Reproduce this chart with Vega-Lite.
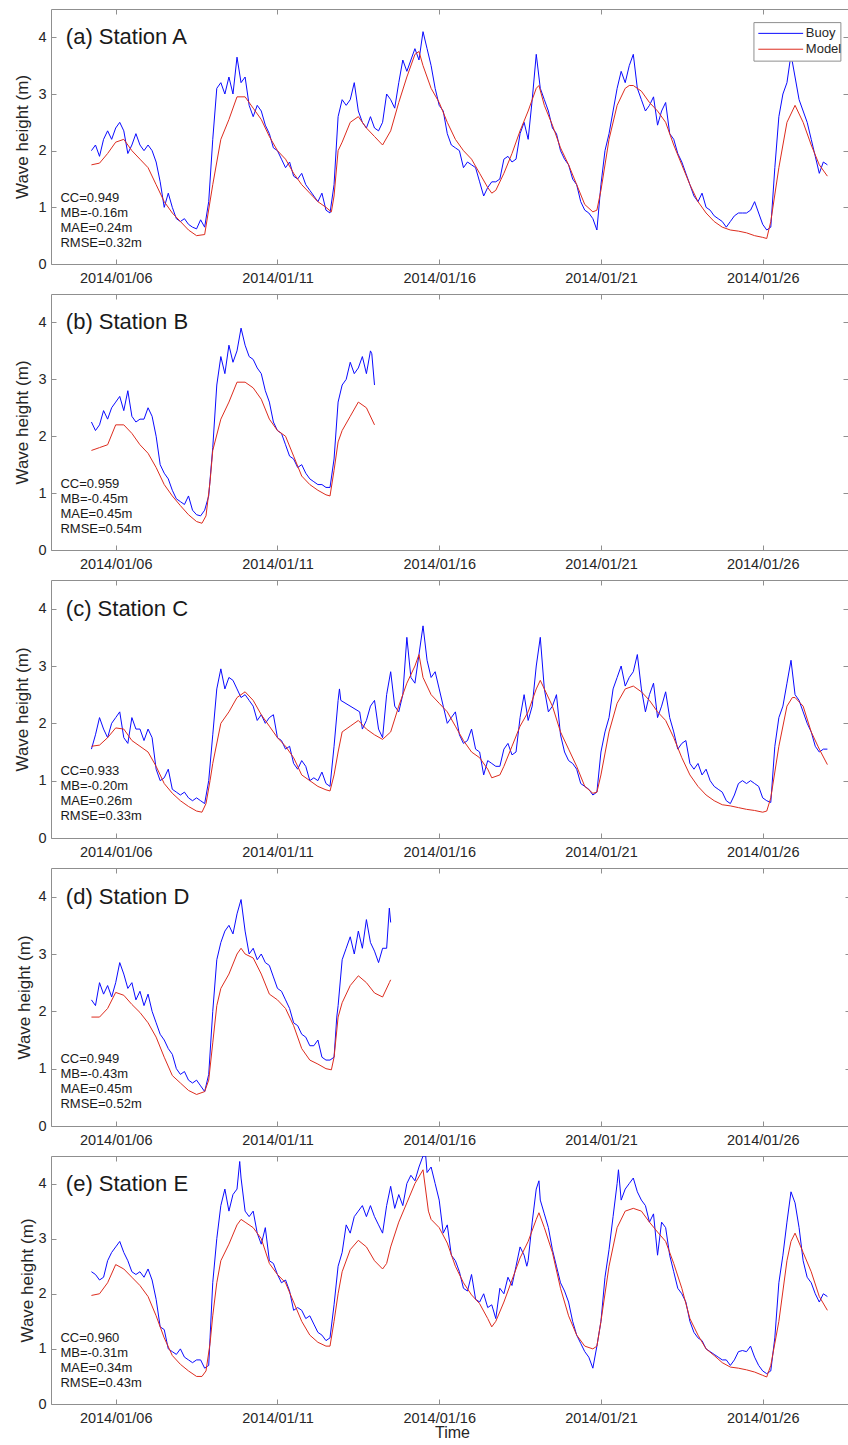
{
"$schema": "https://vega.github.io/schema/vega-lite/v6.json",
"background": "white",
"padding": {"top": 8, "left": 13, "right": 0, "bottom": 0},
"spacing": 8,
"config": {
  "font": "Liberation Sans",
  "view": {"stroke": "#8f8f8f", "strokeWidth": 1},
  "axis": {"domain": false, "grid": false, "tickColor": "#8f8f8f", "tickSize": -5, "labelColor": "#262626", "titleColor": "#262626", "labelFontSize": 14.5, "titleFontSize": 17, "titleFontWeight": "normal", "labelFont": "Liberation Sans", "titleFont": "Liberation Sans"}
},
"datasets": {
"Ab": [
{"t":"2014-01-05 06:00","v":2.0},{"t":"2014-01-05 09:00","v":2.1},{"t":"2014-01-05 12:00","v":1.9},{"t":"2014-01-05 15:00","v":2.2},{"t":"2014-01-05 18:00","v":2.35},{"t":"2014-01-05 21:00","v":2.2},
{"t":"2014-01-06 00:00","v":2.4},{"t":"2014-01-06 03:00","v":2.5},{"t":"2014-01-06 06:00","v":2.35},{"t":"2014-01-06 09:00","v":1.95},{"t":"2014-01-06 12:00","v":2.1},{"t":"2014-01-06 15:00","v":2.3},{"t":"2014-01-06 18:00","v":2.1},{"t":"2014-01-06 21:00","v":2.0},
{"t":"2014-01-07 00:00","v":2.1},{"t":"2014-01-07 03:00","v":2.0},{"t":"2014-01-07 06:00","v":1.8},{"t":"2014-01-07 09:00","v":1.45},{"t":"2014-01-07 12:00","v":1.0},{"t":"2014-01-07 15:00","v":1.25},{"t":"2014-01-07 18:00","v":1.0},{"t":"2014-01-07 21:00","v":0.8},
{"t":"2014-01-08 00:00","v":0.75},{"t":"2014-01-08 03:00","v":0.8},{"t":"2014-01-08 06:00","v":0.7},{"t":"2014-01-08 09:00","v":0.65},{"t":"2014-01-08 12:00","v":0.62},{"t":"2014-01-08 15:00","v":0.78},{"t":"2014-01-08 18:00","v":0.65},{"t":"2014-01-08 21:00","v":1.1},
{"t":"2014-01-09 00:00","v":2.2},{"t":"2014-01-09 03:00","v":3.1},{"t":"2014-01-09 06:00","v":3.2},{"t":"2014-01-09 09:00","v":3.0},{"t":"2014-01-09 12:00","v":3.3},{"t":"2014-01-09 15:00","v":3.0},{"t":"2014-01-09 18:00","v":3.65},{"t":"2014-01-09 21:00","v":3.2},
{"t":"2014-01-10 00:00","v":3.3},{"t":"2014-01-10 03:00","v":2.8},{"t":"2014-01-10 06:00","v":2.6},{"t":"2014-01-10 09:00","v":2.8},{"t":"2014-01-10 12:00","v":2.7},{"t":"2014-01-10 15:00","v":2.45},{"t":"2014-01-10 18:00","v":2.3},{"t":"2014-01-10 21:00","v":2.05},
{"t":"2014-01-11 00:00","v":2.0},{"t":"2014-01-11 03:00","v":1.85},{"t":"2014-01-11 06:00","v":1.7},{"t":"2014-01-11 09:00","v":1.8},{"t":"2014-01-11 12:00","v":1.55},{"t":"2014-01-11 15:00","v":1.5},{"t":"2014-01-11 18:00","v":1.6},{"t":"2014-01-11 21:00","v":1.4},
{"t":"2014-01-12 00:00","v":1.3},{"t":"2014-01-12 03:00","v":1.2},{"t":"2014-01-12 06:00","v":1.1},{"t":"2014-01-12 09:00","v":1.25},{"t":"2014-01-12 12:00","v":0.95},{"t":"2014-01-12 15:00","v":0.9},{"t":"2014-01-12 18:00","v":1.4},{"t":"2014-01-12 21:00","v":2.6},
{"t":"2014-01-13 00:00","v":2.9},{"t":"2014-01-13 03:00","v":2.8},{"t":"2014-01-13 06:00","v":2.9},{"t":"2014-01-13 09:00","v":3.2},{"t":"2014-01-13 12:00","v":2.7},{"t":"2014-01-13 15:00","v":2.5},{"t":"2014-01-13 18:00","v":2.4},{"t":"2014-01-13 21:00","v":2.6},
{"t":"2014-01-14 00:00","v":2.4},{"t":"2014-01-14 03:00","v":2.35},{"t":"2014-01-14 06:00","v":2.5},{"t":"2014-01-14 09:00","v":3.0},{"t":"2014-01-14 12:00","v":2.9},{"t":"2014-01-14 15:00","v":2.75},{"t":"2014-01-14 18:00","v":3.2},{"t":"2014-01-14 21:00","v":3.6},
{"t":"2014-01-15 00:00","v":3.4},{"t":"2014-01-15 03:00","v":3.6},{"t":"2014-01-15 06:00","v":3.8},{"t":"2014-01-15 09:00","v":3.6},{"t":"2014-01-15 12:00","v":4.1},{"t":"2014-01-15 15:00","v":3.8},{"t":"2014-01-15 18:00","v":3.5},{"t":"2014-01-15 21:00","v":3.1},
{"t":"2014-01-16 00:00","v":2.8},{"t":"2014-01-16 03:00","v":2.7},{"t":"2014-01-16 06:00","v":2.3},{"t":"2014-01-16 09:00","v":2.1},{"t":"2014-01-16 12:00","v":2.05},{"t":"2014-01-16 15:00","v":2.0},{"t":"2014-01-16 18:00","v":1.7},{"t":"2014-01-16 21:00","v":1.8},
{"t":"2014-01-17 00:00","v":1.75},{"t":"2014-01-17 03:00","v":1.7},{"t":"2014-01-17 06:00","v":1.45},{"t":"2014-01-17 09:00","v":1.2},{"t":"2014-01-17 12:00","v":1.35},{"t":"2014-01-17 15:00","v":1.45},{"t":"2014-01-17 18:00","v":1.45},{"t":"2014-01-17 21:00","v":1.5},
{"t":"2014-01-18 00:00","v":1.85},{"t":"2014-01-18 03:00","v":1.9},{"t":"2014-01-18 06:00","v":1.8},{"t":"2014-01-18 09:00","v":1.85},{"t":"2014-01-18 12:00","v":2.3},{"t":"2014-01-18 15:00","v":2.5},{"t":"2014-01-18 18:00","v":2.2},{"t":"2014-01-18 21:00","v":2.9},
{"t":"2014-01-19 00:00","v":3.7},{"t":"2014-01-19 03:00","v":3.1},{"t":"2014-01-19 06:00","v":2.9},{"t":"2014-01-19 09:00","v":2.7},{"t":"2014-01-19 12:00","v":2.4},{"t":"2014-01-19 15:00","v":2.3},{"t":"2014-01-19 18:00","v":2.0},{"t":"2014-01-19 21:00","v":1.85},
{"t":"2014-01-20 00:00","v":1.75},{"t":"2014-01-20 03:00","v":1.5},{"t":"2014-01-20 06:00","v":1.4},{"t":"2014-01-20 09:00","v":1.1},{"t":"2014-01-20 12:00","v":0.95},{"t":"2014-01-20 15:00","v":0.9},{"t":"2014-01-20 18:00","v":0.8},{"t":"2014-01-20 21:00","v":0.6},
{"t":"2014-01-21 00:00","v":1.4},{"t":"2014-01-21 03:00","v":2.0},{"t":"2014-01-21 06:00","v":2.3},{"t":"2014-01-21 09:00","v":2.7},{"t":"2014-01-21 12:00","v":3.1},{"t":"2014-01-21 15:00","v":3.4},{"t":"2014-01-21 18:00","v":3.2},{"t":"2014-01-21 21:00","v":3.5},
{"t":"2014-01-22 00:00","v":3.7},{"t":"2014-01-22 03:00","v":3.1},{"t":"2014-01-22 06:00","v":2.9},{"t":"2014-01-22 09:00","v":2.7},{"t":"2014-01-22 12:00","v":2.8},{"t":"2014-01-22 15:00","v":2.95},{"t":"2014-01-22 18:00","v":2.45},{"t":"2014-01-22 21:00","v":2.7},
{"t":"2014-01-23 00:00","v":2.85},{"t":"2014-01-23 03:00","v":2.3},{"t":"2014-01-23 06:00","v":2.2},{"t":"2014-01-23 09:00","v":1.95},{"t":"2014-01-23 12:00","v":1.8},{"t":"2014-01-23 15:00","v":1.6},{"t":"2014-01-23 18:00","v":1.4},{"t":"2014-01-23 21:00","v":1.2},
{"t":"2014-01-24 00:00","v":1.1},{"t":"2014-01-24 03:00","v":1.25},{"t":"2014-01-24 06:00","v":1.0},{"t":"2014-01-24 09:00","v":0.95},{"t":"2014-01-24 12:00","v":0.85},{"t":"2014-01-24 15:00","v":0.8},{"t":"2014-01-24 18:00","v":0.75},{"t":"2014-01-24 21:00","v":0.65},
{"t":"2014-01-25 00:00","v":0.75},{"t":"2014-01-25 03:00","v":0.85},{"t":"2014-01-25 06:00","v":0.9},{"t":"2014-01-25 09:00","v":0.9},{"t":"2014-01-25 12:00","v":0.9},{"t":"2014-01-25 15:00","v":0.95},{"t":"2014-01-25 18:00","v":1.1},{"t":"2014-01-25 21:00","v":0.9},
{"t":"2014-01-26 00:00","v":0.7},{"t":"2014-01-26 03:00","v":0.6},{"t":"2014-01-26 06:00","v":0.65},{"t":"2014-01-26 09:00","v":1.7},{"t":"2014-01-26 12:00","v":2.6},{"t":"2014-01-26 15:00","v":3.0},{"t":"2014-01-26 18:00","v":3.2},{"t":"2014-01-26 21:00","v":3.7},
{"t":"2014-01-27 00:00","v":3.3},{"t":"2014-01-27 03:00","v":2.9},{"t":"2014-01-27 06:00","v":2.7},{"t":"2014-01-27 09:00","v":2.5},{"t":"2014-01-27 12:00","v":2.2},{"t":"2014-01-27 15:00","v":1.9},{"t":"2014-01-27 18:00","v":1.6},{"t":"2014-01-27 21:00","v":1.8},
{"t":"2014-01-28 00:00","v":1.75}
],
"Am": [
{"t":"2014-01-05 06:00","v":1.75},{"t":"2014-01-05 12:00","v":1.78},{"t":"2014-01-05 18:00","v":1.95},{"t":"2014-01-06 00:00","v":2.15},{"t":"2014-01-06 06:00","v":2.2},{"t":"2014-01-06 12:00","v":2.0},{"t":"2014-01-06 18:00","v":1.85},
{"t":"2014-01-07 00:00","v":1.7},{"t":"2014-01-07 06:00","v":1.4},{"t":"2014-01-07 12:00","v":1.1},{"t":"2014-01-07 18:00","v":0.9},{"t":"2014-01-08 00:00","v":0.75},{"t":"2014-01-08 06:00","v":0.6},{"t":"2014-01-08 12:00","v":0.5},{"t":"2014-01-08 18:00","v":0.52},
{"t":"2014-01-09 00:00","v":1.4},{"t":"2014-01-09 06:00","v":2.2},{"t":"2014-01-09 12:00","v":2.55},{"t":"2014-01-09 18:00","v":2.95},{"t":"2014-01-10 00:00","v":2.95},{"t":"2014-01-10 06:00","v":2.75},{"t":"2014-01-10 12:00","v":2.55},{"t":"2014-01-10 18:00","v":2.25},
{"t":"2014-01-11 00:00","v":2.0},{"t":"2014-01-11 06:00","v":1.85},{"t":"2014-01-11 12:00","v":1.6},{"t":"2014-01-11 18:00","v":1.4},{"t":"2014-01-12 00:00","v":1.25},{"t":"2014-01-12 06:00","v":1.1},{"t":"2014-01-12 12:00","v":1.0},{"t":"2014-01-12 16:00","v":0.92},{"t":"2014-01-12 18:00","v":1.2},{"t":"2014-01-12 21:00","v":2.0},
{"t":"2014-01-13 00:00","v":2.15},{"t":"2014-01-13 06:00","v":2.5},{"t":"2014-01-13 12:00","v":2.6},{"t":"2014-01-13 18:00","v":2.4},{"t":"2014-01-14 00:00","v":2.25},{"t":"2014-01-14 06:00","v":2.1},{"t":"2014-01-14 12:00","v":2.35},{"t":"2014-01-14 18:00","v":2.85},
{"t":"2014-01-15 00:00","v":3.3},{"t":"2014-01-15 06:00","v":3.7},{"t":"2014-01-15 09:00","v":3.75},{"t":"2014-01-15 12:00","v":3.5},{"t":"2014-01-15 18:00","v":3.1},{"t":"2014-01-16 00:00","v":2.85},{"t":"2014-01-16 06:00","v":2.5},{"t":"2014-01-16 12:00","v":2.2},{"t":"2014-01-16 18:00","v":2.0},
{"t":"2014-01-17 00:00","v":1.85},{"t":"2014-01-17 06:00","v":1.6},{"t":"2014-01-17 12:00","v":1.35},{"t":"2014-01-17 15:00","v":1.25},{"t":"2014-01-17 18:00","v":1.3},{"t":"2014-01-18 00:00","v":1.6},{"t":"2014-01-18 06:00","v":1.95},{"t":"2014-01-18 12:00","v":2.35},{"t":"2014-01-18 18:00","v":2.7},
{"t":"2014-01-19 00:00","v":3.1},{"t":"2014-01-19 02:00","v":3.15},{"t":"2014-01-19 06:00","v":2.8},{"t":"2014-01-19 12:00","v":2.45},{"t":"2014-01-19 18:00","v":2.05},{"t":"2014-01-20 00:00","v":1.75},{"t":"2014-01-20 06:00","v":1.4},{"t":"2014-01-20 12:00","v":1.05},{"t":"2014-01-20 18:00","v":0.92},{"t":"2014-01-20 21:00","v":0.95},
{"t":"2014-01-21 00:00","v":1.3},{"t":"2014-01-21 06:00","v":2.2},{"t":"2014-01-21 12:00","v":2.8},{"t":"2014-01-21 18:00","v":3.1},{"t":"2014-01-21 21:00","v":3.15},{"t":"2014-01-22 00:00","v":3.15},{"t":"2014-01-22 06:00","v":3.05},{"t":"2014-01-22 12:00","v":2.85},{"t":"2014-01-22 18:00","v":2.7},
{"t":"2014-01-23 00:00","v":2.5},{"t":"2014-01-23 06:00","v":2.1},{"t":"2014-01-23 12:00","v":1.75},{"t":"2014-01-23 18:00","v":1.4},{"t":"2014-01-24 00:00","v":1.1},{"t":"2014-01-24 06:00","v":0.9},{"t":"2014-01-24 12:00","v":0.75},{"t":"2014-01-24 18:00","v":0.65},
{"t":"2014-01-25 00:00","v":0.6},{"t":"2014-01-25 06:00","v":0.58},{"t":"2014-01-25 12:00","v":0.55},{"t":"2014-01-25 18:00","v":0.5},{"t":"2014-01-26 00:00","v":0.47},{"t":"2014-01-26 03:00","v":0.45},{"t":"2014-01-26 06:00","v":0.75},{"t":"2014-01-26 12:00","v":1.7},{"t":"2014-01-26 18:00","v":2.5},
{"t":"2014-01-27 00:00","v":2.8},{"t":"2014-01-27 06:00","v":2.5},{"t":"2014-01-27 12:00","v":2.1},{"t":"2014-01-27 18:00","v":1.75},{"t":"2014-01-28 00:00","v":1.55}
],
"Bb": [
{"t":"2014-01-05 06:00","v":2.25},{"t":"2014-01-05 09:00","v":2.1},{"t":"2014-01-05 12:00","v":2.2},{"t":"2014-01-05 15:00","v":2.45},{"t":"2014-01-05 18:00","v":2.3},{"t":"2014-01-05 21:00","v":2.5},
{"t":"2014-01-06 00:00","v":2.6},{"t":"2014-01-06 03:00","v":2.7},{"t":"2014-01-06 06:00","v":2.45},{"t":"2014-01-06 09:00","v":2.8},{"t":"2014-01-06 12:00","v":2.35},{"t":"2014-01-06 15:00","v":2.25},{"t":"2014-01-06 18:00","v":2.3},{"t":"2014-01-06 21:00","v":2.3},
{"t":"2014-01-07 00:00","v":2.5},{"t":"2014-01-07 03:00","v":2.35},{"t":"2014-01-07 06:00","v":2.0},{"t":"2014-01-07 09:00","v":1.5},{"t":"2014-01-07 12:00","v":1.35},{"t":"2014-01-07 15:00","v":1.25},{"t":"2014-01-07 18:00","v":1.05},{"t":"2014-01-07 21:00","v":0.9},
{"t":"2014-01-08 00:00","v":0.85},{"t":"2014-01-08 03:00","v":0.8},{"t":"2014-01-08 06:00","v":0.95},{"t":"2014-01-08 09:00","v":0.7},{"t":"2014-01-08 12:00","v":0.62},{"t":"2014-01-08 15:00","v":0.6},{"t":"2014-01-08 18:00","v":0.7},{"t":"2014-01-08 21:00","v":0.95},
{"t":"2014-01-09 00:00","v":1.8},{"t":"2014-01-09 03:00","v":2.9},{"t":"2014-01-09 06:00","v":3.4},{"t":"2014-01-09 09:00","v":3.1},{"t":"2014-01-09 12:00","v":3.6},{"t":"2014-01-09 15:00","v":3.3},{"t":"2014-01-09 18:00","v":3.5},{"t":"2014-01-09 21:00","v":3.9},
{"t":"2014-01-10 00:00","v":3.6},{"t":"2014-01-10 03:00","v":3.4},{"t":"2014-01-10 06:00","v":3.35},{"t":"2014-01-10 09:00","v":3.2},{"t":"2014-01-10 12:00","v":3.1},{"t":"2014-01-10 15:00","v":2.8},{"t":"2014-01-10 18:00","v":2.6},{"t":"2014-01-10 21:00","v":2.25},
{"t":"2014-01-11 00:00","v":2.1},{"t":"2014-01-11 03:00","v":2.05},{"t":"2014-01-11 06:00","v":1.85},{"t":"2014-01-11 09:00","v":1.65},{"t":"2014-01-11 12:00","v":1.6},{"t":"2014-01-11 15:00","v":1.45},{"t":"2014-01-11 18:00","v":1.5},{"t":"2014-01-11 21:00","v":1.35},
{"t":"2014-01-12 00:00","v":1.25},{"t":"2014-01-12 03:00","v":1.2},{"t":"2014-01-12 06:00","v":1.15},{"t":"2014-01-12 09:00","v":1.15},{"t":"2014-01-12 12:00","v":1.1},{"t":"2014-01-12 15:00","v":1.1},{"t":"2014-01-12 18:00","v":1.6},{"t":"2014-01-12 21:00","v":2.6},
{"t":"2014-01-13 00:00","v":2.9},{"t":"2014-01-13 03:00","v":3.0},{"t":"2014-01-13 06:00","v":3.3},{"t":"2014-01-13 09:00","v":3.1},{"t":"2014-01-13 12:00","v":3.2},{"t":"2014-01-13 15:00","v":3.4},{"t":"2014-01-13 18:00","v":3.1},{"t":"2014-01-13 21:00","v":3.5},{"t":"2014-01-13 22:00","v":3.45},{"t":"2014-01-14 00:00","v":2.9}
],
"Bm": [
{"t":"2014-01-05 06:00","v":1.75},{"t":"2014-01-05 12:00","v":1.8},{"t":"2014-01-05 18:00","v":1.85},{"t":"2014-01-06 00:00","v":2.2},{"t":"2014-01-06 06:00","v":2.2},{"t":"2014-01-06 12:00","v":2.05},{"t":"2014-01-06 18:00","v":1.85},
{"t":"2014-01-07 00:00","v":1.7},{"t":"2014-01-07 06:00","v":1.45},{"t":"2014-01-07 12:00","v":1.15},{"t":"2014-01-07 18:00","v":0.95},{"t":"2014-01-08 00:00","v":0.78},{"t":"2014-01-08 06:00","v":0.62},{"t":"2014-01-08 12:00","v":0.5},{"t":"2014-01-08 16:00","v":0.47},{"t":"2014-01-08 19:00","v":0.6},{"t":"2014-01-08 22:00","v":1.2},
{"t":"2014-01-09 00:00","v":1.75},{"t":"2014-01-09 06:00","v":2.3},{"t":"2014-01-09 12:00","v":2.6},{"t":"2014-01-09 18:00","v":2.95},{"t":"2014-01-10 00:00","v":2.95},{"t":"2014-01-10 06:00","v":2.85},{"t":"2014-01-10 12:00","v":2.65},{"t":"2014-01-10 18:00","v":2.3},
{"t":"2014-01-11 00:00","v":2.1},{"t":"2014-01-11 06:00","v":2.0},{"t":"2014-01-11 12:00","v":1.65},{"t":"2014-01-11 18:00","v":1.3},{"t":"2014-01-12 00:00","v":1.15},{"t":"2014-01-12 06:00","v":1.05},{"t":"2014-01-12 12:00","v":0.97},{"t":"2014-01-12 15:00","v":0.95},{"t":"2014-01-12 18:00","v":1.4},{"t":"2014-01-12 21:00","v":1.9},
{"t":"2014-01-13 00:00","v":2.1},{"t":"2014-01-13 06:00","v":2.35},{"t":"2014-01-13 12:00","v":2.6},{"t":"2014-01-13 18:00","v":2.5},{"t":"2014-01-14 00:00","v":2.2}
],
"Cb": [
{"t":"2014-01-05 06:00","v":1.55},{"t":"2014-01-05 09:00","v":1.8},{"t":"2014-01-05 12:00","v":2.1},{"t":"2014-01-05 15:00","v":1.9},{"t":"2014-01-05 18:00","v":1.75},{"t":"2014-01-05 21:00","v":2.0},
{"t":"2014-01-06 00:00","v":2.1},{"t":"2014-01-06 03:00","v":2.2},{"t":"2014-01-06 06:00","v":1.75},{"t":"2014-01-06 09:00","v":1.65},{"t":"2014-01-06 12:00","v":2.1},{"t":"2014-01-06 15:00","v":1.9},{"t":"2014-01-06 18:00","v":1.9},{"t":"2014-01-06 21:00","v":1.7},
{"t":"2014-01-07 00:00","v":1.9},{"t":"2014-01-07 03:00","v":1.75},{"t":"2014-01-07 06:00","v":1.2},{"t":"2014-01-07 09:00","v":1.0},{"t":"2014-01-07 12:00","v":1.05},{"t":"2014-01-07 15:00","v":1.2},{"t":"2014-01-07 18:00","v":0.85},{"t":"2014-01-07 21:00","v":0.8},
{"t":"2014-01-08 00:00","v":0.75},{"t":"2014-01-08 03:00","v":0.8},{"t":"2014-01-08 06:00","v":0.7},{"t":"2014-01-08 09:00","v":0.65},{"t":"2014-01-08 12:00","v":0.7},{"t":"2014-01-08 15:00","v":0.65},{"t":"2014-01-08 18:00","v":0.6},{"t":"2014-01-08 21:00","v":1.0},
{"t":"2014-01-09 00:00","v":1.8},{"t":"2014-01-09 03:00","v":2.6},{"t":"2014-01-09 06:00","v":2.95},{"t":"2014-01-09 09:00","v":2.6},{"t":"2014-01-09 12:00","v":2.8},{"t":"2014-01-09 15:00","v":2.75},{"t":"2014-01-09 18:00","v":2.6},{"t":"2014-01-09 21:00","v":2.45},
{"t":"2014-01-10 00:00","v":2.5},{"t":"2014-01-10 03:00","v":2.4},{"t":"2014-01-10 06:00","v":2.3},{"t":"2014-01-10 09:00","v":2.05},{"t":"2014-01-10 12:00","v":2.15},{"t":"2014-01-10 15:00","v":2.0},{"t":"2014-01-10 18:00","v":2.1},{"t":"2014-01-10 21:00","v":2.15},
{"t":"2014-01-11 00:00","v":1.75},{"t":"2014-01-11 03:00","v":1.7},{"t":"2014-01-11 06:00","v":1.55},{"t":"2014-01-11 09:00","v":1.6},{"t":"2014-01-11 12:00","v":1.3},{"t":"2014-01-11 15:00","v":1.2},{"t":"2014-01-11 18:00","v":1.35},{"t":"2014-01-11 21:00","v":1.25},
{"t":"2014-01-12 00:00","v":1.0},{"t":"2014-01-12 03:00","v":1.05},{"t":"2014-01-12 06:00","v":1.0},{"t":"2014-01-12 09:00","v":1.15},{"t":"2014-01-12 12:00","v":0.95},{"t":"2014-01-12 15:00","v":0.9},{"t":"2014-01-12 18:00","v":1.6},{"t":"2014-01-12 21:00","v":2.4},{"t":"2014-01-12 22:00","v":2.6},{"t":"2014-01-12 23:00","v":2.4},
{"t":"2014-01-13 13:00","v":2.2},{"t":"2014-01-13 15:00","v":1.9},{"t":"2014-01-13 18:00","v":2.05},{"t":"2014-01-13 21:00","v":2.3},
{"t":"2014-01-14 00:00","v":2.4},{"t":"2014-01-14 03:00","v":1.9},{"t":"2014-01-14 06:00","v":1.75},{"t":"2014-01-14 09:00","v":2.5},{"t":"2014-01-14 12:00","v":2.9},{"t":"2014-01-14 15:00","v":2.3},{"t":"2014-01-14 18:00","v":2.2},{"t":"2014-01-14 21:00","v":2.5},
{"t":"2014-01-15 00:00","v":3.5},{"t":"2014-01-15 03:00","v":2.8},{"t":"2014-01-15 06:00","v":2.7},{"t":"2014-01-15 09:00","v":3.2},{"t":"2014-01-15 12:00","v":3.7},{"t":"2014-01-15 15:00","v":3.1},{"t":"2014-01-15 18:00","v":2.8},{"t":"2014-01-15 21:00","v":2.9},
{"t":"2014-01-16 00:00","v":2.6},{"t":"2014-01-16 03:00","v":2.3},{"t":"2014-01-16 06:00","v":2.0},{"t":"2014-01-16 09:00","v":2.1},{"t":"2014-01-16 12:00","v":2.2},{"t":"2014-01-16 15:00","v":1.8},{"t":"2014-01-16 18:00","v":1.65},{"t":"2014-01-16 21:00","v":1.7},
{"t":"2014-01-17 00:00","v":1.9},{"t":"2014-01-17 03:00","v":1.55},{"t":"2014-01-17 06:00","v":1.5},{"t":"2014-01-17 09:00","v":1.1},{"t":"2014-01-17 12:00","v":1.35},{"t":"2014-01-17 15:00","v":1.3},{"t":"2014-01-17 18:00","v":1.25},{"t":"2014-01-17 21:00","v":1.25},
{"t":"2014-01-18 00:00","v":1.55},{"t":"2014-01-18 03:00","v":1.65},{"t":"2014-01-18 06:00","v":1.45},{"t":"2014-01-18 09:00","v":1.5},{"t":"2014-01-18 12:00","v":2.1},{"t":"2014-01-18 15:00","v":2.5},{"t":"2014-01-18 18:00","v":2.05},{"t":"2014-01-18 21:00","v":2.3},
{"t":"2014-01-19 00:00","v":3.0},{"t":"2014-01-19 03:00","v":3.5},{"t":"2014-01-19 06:00","v":2.6},{"t":"2014-01-19 09:00","v":2.2},{"t":"2014-01-19 12:00","v":2.3},{"t":"2014-01-19 15:00","v":2.5},{"t":"2014-01-19 18:00","v":1.8},{"t":"2014-01-19 21:00","v":1.5},
{"t":"2014-01-20 00:00","v":1.35},{"t":"2014-01-20 03:00","v":1.3},{"t":"2014-01-20 06:00","v":1.2},{"t":"2014-01-20 09:00","v":0.95},{"t":"2014-01-20 12:00","v":0.9},{"t":"2014-01-20 15:00","v":0.85},{"t":"2014-01-20 18:00","v":0.75},{"t":"2014-01-20 21:00","v":0.8},
{"t":"2014-01-21 00:00","v":1.5},{"t":"2014-01-21 03:00","v":1.85},{"t":"2014-01-21 06:00","v":2.1},{"t":"2014-01-21 09:00","v":2.6},{"t":"2014-01-21 12:00","v":2.8},{"t":"2014-01-21 15:00","v":3.0},{"t":"2014-01-21 18:00","v":2.65},{"t":"2014-01-21 21:00","v":2.8},
{"t":"2014-01-22 00:00","v":2.9},{"t":"2014-01-22 03:00","v":3.2},{"t":"2014-01-22 06:00","v":2.6},{"t":"2014-01-22 09:00","v":2.2},{"t":"2014-01-22 12:00","v":2.5},{"t":"2014-01-22 15:00","v":2.7},{"t":"2014-01-22 18:00","v":2.1},{"t":"2014-01-22 21:00","v":2.3},
{"t":"2014-01-23 00:00","v":2.55},{"t":"2014-01-23 03:00","v":2.1},{"t":"2014-01-23 06:00","v":1.85},{"t":"2014-01-23 09:00","v":1.55},{"t":"2014-01-23 12:00","v":1.65},{"t":"2014-01-23 15:00","v":1.7},{"t":"2014-01-23 18:00","v":1.3},{"t":"2014-01-23 21:00","v":1.2},
{"t":"2014-01-24 00:00","v":1.3},{"t":"2014-01-24 03:00","v":1.1},{"t":"2014-01-24 06:00","v":1.2},{"t":"2014-01-24 09:00","v":1.0},{"t":"2014-01-24 12:00","v":0.9},{"t":"2014-01-24 15:00","v":0.85},{"t":"2014-01-24 18:00","v":0.8},{"t":"2014-01-24 21:00","v":0.65},
{"t":"2014-01-25 00:00","v":0.6},{"t":"2014-01-25 03:00","v":0.75},{"t":"2014-01-25 06:00","v":0.95},{"t":"2014-01-25 09:00","v":1.0},{"t":"2014-01-25 12:00","v":0.95},{"t":"2014-01-25 15:00","v":1.0},{"t":"2014-01-25 18:00","v":0.95},{"t":"2014-01-25 21:00","v":0.9},
{"t":"2014-01-26 00:00","v":0.7},{"t":"2014-01-26 03:00","v":0.65},{"t":"2014-01-26 06:00","v":0.62},{"t":"2014-01-26 09:00","v":1.6},{"t":"2014-01-26 12:00","v":2.1},{"t":"2014-01-26 15:00","v":2.3},{"t":"2014-01-26 18:00","v":2.7},{"t":"2014-01-26 21:00","v":3.1},
{"t":"2014-01-27 00:00","v":2.5},{"t":"2014-01-27 03:00","v":2.4},{"t":"2014-01-27 06:00","v":2.2},{"t":"2014-01-27 09:00","v":2.0},{"t":"2014-01-27 12:00","v":1.85},{"t":"2014-01-27 15:00","v":1.6},{"t":"2014-01-27 18:00","v":1.5},{"t":"2014-01-27 21:00","v":1.55},
{"t":"2014-01-28 00:00","v":1.55}
],
"Cm": [
{"t":"2014-01-05 06:00","v":1.6},{"t":"2014-01-05 12:00","v":1.62},{"t":"2014-01-05 18:00","v":1.75},{"t":"2014-01-06 00:00","v":1.92},{"t":"2014-01-06 06:00","v":1.9},{"t":"2014-01-06 12:00","v":1.7},{"t":"2014-01-06 18:00","v":1.6},
{"t":"2014-01-07 00:00","v":1.5},{"t":"2014-01-07 06:00","v":1.25},{"t":"2014-01-07 12:00","v":0.95},{"t":"2014-01-07 18:00","v":0.78},{"t":"2014-01-08 00:00","v":0.65},{"t":"2014-01-08 06:00","v":0.55},{"t":"2014-01-08 12:00","v":0.47},{"t":"2014-01-08 16:00","v":0.45},{"t":"2014-01-08 19:00","v":0.6},{"t":"2014-01-08 22:00","v":1.0},
{"t":"2014-01-09 00:00","v":1.3},{"t":"2014-01-09 06:00","v":2.0},{"t":"2014-01-09 12:00","v":2.2},{"t":"2014-01-09 18:00","v":2.45},{"t":"2014-01-10 00:00","v":2.55},{"t":"2014-01-10 06:00","v":2.4},{"t":"2014-01-10 12:00","v":2.15},{"t":"2014-01-10 18:00","v":1.95},
{"t":"2014-01-11 00:00","v":1.75},{"t":"2014-01-11 06:00","v":1.6},{"t":"2014-01-11 12:00","v":1.4},{"t":"2014-01-11 18:00","v":1.1},{"t":"2014-01-12 00:00","v":1.0},{"t":"2014-01-12 06:00","v":0.9},{"t":"2014-01-12 12:00","v":0.84},{"t":"2014-01-12 15:00","v":0.82},{"t":"2014-01-12 18:00","v":1.1},{"t":"2014-01-12 21:00","v":1.5},
{"t":"2014-01-13 00:00","v":1.85},{"t":"2014-01-13 06:00","v":1.95},{"t":"2014-01-13 12:00","v":2.05},{"t":"2014-01-13 18:00","v":1.9},{"t":"2014-01-14 00:00","v":1.8},{"t":"2014-01-14 06:00","v":1.72},{"t":"2014-01-14 12:00","v":1.85},{"t":"2014-01-14 18:00","v":2.3},
{"t":"2014-01-15 00:00","v":2.7},{"t":"2014-01-15 06:00","v":3.0},{"t":"2014-01-15 09:00","v":3.2},{"t":"2014-01-15 12:00","v":2.8},{"t":"2014-01-15 18:00","v":2.5},{"t":"2014-01-16 00:00","v":2.35},{"t":"2014-01-16 06:00","v":2.2},{"t":"2014-01-16 12:00","v":1.95},{"t":"2014-01-16 18:00","v":1.7},
{"t":"2014-01-17 00:00","v":1.5},{"t":"2014-01-17 06:00","v":1.4},{"t":"2014-01-17 12:00","v":1.2},{"t":"2014-01-17 15:00","v":1.05},{"t":"2014-01-17 21:00","v":1.1},{"t":"2014-01-18 00:00","v":1.25},{"t":"2014-01-18 06:00","v":1.6},{"t":"2014-01-18 12:00","v":1.95},{"t":"2014-01-18 18:00","v":2.2},
{"t":"2014-01-19 00:00","v":2.6},{"t":"2014-01-19 03:00","v":2.75},{"t":"2014-01-19 06:00","v":2.6},{"t":"2014-01-19 12:00","v":2.3},{"t":"2014-01-19 18:00","v":1.85},{"t":"2014-01-20 00:00","v":1.55},{"t":"2014-01-20 06:00","v":1.25},{"t":"2014-01-20 12:00","v":0.9},{"t":"2014-01-20 18:00","v":0.78},{"t":"2014-01-20 21:00","v":0.8},
{"t":"2014-01-21 00:00","v":1.1},{"t":"2014-01-21 06:00","v":1.85},{"t":"2014-01-21 12:00","v":2.35},{"t":"2014-01-21 18:00","v":2.6},{"t":"2014-01-22 00:00","v":2.65},{"t":"2014-01-22 06:00","v":2.55},{"t":"2014-01-22 12:00","v":2.4},{"t":"2014-01-22 18:00","v":2.2},
{"t":"2014-01-23 00:00","v":2.05},{"t":"2014-01-23 06:00","v":1.75},{"t":"2014-01-23 12:00","v":1.4},{"t":"2014-01-23 18:00","v":1.1},{"t":"2014-01-24 00:00","v":0.9},{"t":"2014-01-24 06:00","v":0.75},{"t":"2014-01-24 12:00","v":0.65},{"t":"2014-01-24 18:00","v":0.58},
{"t":"2014-01-25 00:00","v":0.56},{"t":"2014-01-25 06:00","v":0.53},{"t":"2014-01-25 12:00","v":0.5},{"t":"2014-01-25 18:00","v":0.48},{"t":"2014-01-26 00:00","v":0.45},{"t":"2014-01-26 03:00","v":0.47},{"t":"2014-01-26 06:00","v":0.7},{"t":"2014-01-26 12:00","v":1.6},{"t":"2014-01-26 18:00","v":2.3},{"t":"2014-01-26 22:00","v":2.45},
{"t":"2014-01-27 00:00","v":2.45},{"t":"2014-01-27 06:00","v":2.3},{"t":"2014-01-27 12:00","v":1.85},{"t":"2014-01-27 18:00","v":1.55},{"t":"2014-01-28 00:00","v":1.28}
],
"Db": [
{"t":"2014-01-05 06:00","v":2.2},{"t":"2014-01-05 09:00","v":2.1},{"t":"2014-01-05 12:00","v":2.5},{"t":"2014-01-05 15:00","v":2.3},{"t":"2014-01-05 18:00","v":2.45},{"t":"2014-01-05 21:00","v":2.25},
{"t":"2014-01-06 00:00","v":2.5},{"t":"2014-01-06 03:00","v":2.85},{"t":"2014-01-06 06:00","v":2.65},{"t":"2014-01-06 09:00","v":2.4},{"t":"2014-01-06 12:00","v":2.5},{"t":"2014-01-06 15:00","v":2.2},{"t":"2014-01-06 18:00","v":2.35},{"t":"2014-01-06 21:00","v":2.1},
{"t":"2014-01-07 00:00","v":2.3},{"t":"2014-01-07 03:00","v":2.0},{"t":"2014-01-07 06:00","v":1.8},{"t":"2014-01-07 09:00","v":1.6},{"t":"2014-01-07 12:00","v":1.5},{"t":"2014-01-07 15:00","v":1.35},{"t":"2014-01-07 18:00","v":1.25},{"t":"2014-01-07 21:00","v":1.0},
{"t":"2014-01-08 00:00","v":0.9},{"t":"2014-01-08 03:00","v":0.95},{"t":"2014-01-08 06:00","v":0.8},{"t":"2014-01-08 09:00","v":0.75},{"t":"2014-01-08 12:00","v":0.8},{"t":"2014-01-08 15:00","v":0.7},{"t":"2014-01-08 18:00","v":0.6},{"t":"2014-01-08 21:00","v":0.9},
{"t":"2014-01-09 00:00","v":2.0},{"t":"2014-01-09 03:00","v":2.9},{"t":"2014-01-09 06:00","v":3.2},{"t":"2014-01-09 09:00","v":3.4},{"t":"2014-01-09 12:00","v":3.5},{"t":"2014-01-09 15:00","v":3.35},{"t":"2014-01-09 18:00","v":3.7},{"t":"2014-01-09 21:00","v":3.95},
{"t":"2014-01-10 00:00","v":3.4},{"t":"2014-01-10 03:00","v":3.0},{"t":"2014-01-10 06:00","v":3.1},{"t":"2014-01-10 09:00","v":2.9},{"t":"2014-01-10 12:00","v":3.0},{"t":"2014-01-10 15:00","v":2.85},{"t":"2014-01-10 18:00","v":2.8},{"t":"2014-01-10 21:00","v":2.6},
{"t":"2014-01-11 00:00","v":2.4},{"t":"2014-01-11 03:00","v":2.35},{"t":"2014-01-11 06:00","v":2.2},{"t":"2014-01-11 09:00","v":2.05},{"t":"2014-01-11 12:00","v":1.8},{"t":"2014-01-11 15:00","v":1.75},{"t":"2014-01-11 18:00","v":1.6},{"t":"2014-01-11 21:00","v":1.55},
{"t":"2014-01-12 00:00","v":1.4},{"t":"2014-01-12 03:00","v":1.4},{"t":"2014-01-12 06:00","v":1.5},{"t":"2014-01-12 09:00","v":1.2},{"t":"2014-01-12 12:00","v":1.15},{"t":"2014-01-12 15:00","v":1.15},{"t":"2014-01-12 18:00","v":1.2},{"t":"2014-01-12 20:00","v":1.9},{"t":"2014-01-12 21:00","v":2.1},
{"t":"2014-01-13 00:00","v":2.9},{"t":"2014-01-13 03:00","v":3.1},{"t":"2014-01-13 06:00","v":3.3},{"t":"2014-01-13 09:00","v":3.0},{"t":"2014-01-13 12:00","v":3.4},{"t":"2014-01-13 15:00","v":3.1},{"t":"2014-01-13 18:00","v":3.6},{"t":"2014-01-13 21:00","v":3.2},
{"t":"2014-01-14 00:00","v":3.05},{"t":"2014-01-14 03:00","v":2.85},{"t":"2014-01-14 06:00","v":3.1},{"t":"2014-01-14 09:00","v":3.1},{"t":"2014-01-14 11:00","v":3.8},{"t":"2014-01-14 12:00","v":3.55}
],
"Dm": [
{"t":"2014-01-05 06:00","v":1.9},{"t":"2014-01-05 12:00","v":1.9},{"t":"2014-01-05 18:00","v":2.05},{"t":"2014-01-06 00:00","v":2.33},{"t":"2014-01-06 06:00","v":2.28},{"t":"2014-01-06 12:00","v":2.12},{"t":"2014-01-06 18:00","v":1.98},
{"t":"2014-01-07 00:00","v":1.8},{"t":"2014-01-07 06:00","v":1.55},{"t":"2014-01-07 12:00","v":1.2},{"t":"2014-01-07 18:00","v":0.88},{"t":"2014-01-08 00:00","v":0.75},{"t":"2014-01-08 06:00","v":0.62},{"t":"2014-01-08 12:00","v":0.55},{"t":"2014-01-08 18:00","v":0.6},{"t":"2014-01-08 21:00","v":0.8},
{"t":"2014-01-09 00:00","v":1.45},{"t":"2014-01-09 03:00","v":2.1},{"t":"2014-01-09 06:00","v":2.4},{"t":"2014-01-09 12:00","v":2.65},{"t":"2014-01-09 18:00","v":3.0},{"t":"2014-01-09 21:00","v":3.1},{"t":"2014-01-10 00:00","v":3.0},{"t":"2014-01-10 06:00","v":2.93},{"t":"2014-01-10 12:00","v":2.65},{"t":"2014-01-10 18:00","v":2.3},
{"t":"2014-01-11 00:00","v":2.2},{"t":"2014-01-11 06:00","v":2.05},{"t":"2014-01-11 12:00","v":1.75},{"t":"2014-01-11 18:00","v":1.35},{"t":"2014-01-12 00:00","v":1.15},{"t":"2014-01-12 06:00","v":1.08},{"t":"2014-01-12 12:00","v":1.0},{"t":"2014-01-12 16:00","v":0.98},{"t":"2014-01-12 18:00","v":1.2},{"t":"2014-01-12 21:00","v":1.9},
{"t":"2014-01-13 00:00","v":2.15},{"t":"2014-01-13 06:00","v":2.45},{"t":"2014-01-13 12:00","v":2.62},{"t":"2014-01-13 18:00","v":2.5},{"t":"2014-01-14 00:00","v":2.32},{"t":"2014-01-14 06:00","v":2.25},{"t":"2014-01-14 11:00","v":2.5},{"t":"2014-01-14 12:00","v":2.55}
],
"Eb": [
{"t":"2014-01-05 06:00","v":2.4},{"t":"2014-01-05 09:00","v":2.35},{"t":"2014-01-05 12:00","v":2.25},{"t":"2014-01-05 15:00","v":2.3},{"t":"2014-01-05 18:00","v":2.6},{"t":"2014-01-05 21:00","v":2.75},
{"t":"2014-01-06 00:00","v":2.85},{"t":"2014-01-06 03:00","v":2.95},{"t":"2014-01-06 06:00","v":2.75},{"t":"2014-01-06 09:00","v":2.6},{"t":"2014-01-06 12:00","v":2.4},{"t":"2014-01-06 15:00","v":2.35},{"t":"2014-01-06 18:00","v":2.4},{"t":"2014-01-06 21:00","v":2.3},
{"t":"2014-01-07 00:00","v":2.45},{"t":"2014-01-07 03:00","v":2.25},{"t":"2014-01-07 06:00","v":1.9},{"t":"2014-01-07 09:00","v":1.4},{"t":"2014-01-07 12:00","v":1.35},{"t":"2014-01-07 15:00","v":1.0},{"t":"2014-01-07 18:00","v":0.95},{"t":"2014-01-07 21:00","v":0.9},
{"t":"2014-01-08 00:00","v":1.0},{"t":"2014-01-08 03:00","v":0.85},{"t":"2014-01-08 06:00","v":0.8},{"t":"2014-01-08 09:00","v":0.75},{"t":"2014-01-08 12:00","v":0.8},{"t":"2014-01-08 15:00","v":0.8},{"t":"2014-01-08 18:00","v":0.65},{"t":"2014-01-08 21:00","v":0.7},{"t":"2014-01-08 22:00","v":1.2},
{"t":"2014-01-09 00:00","v":2.2},{"t":"2014-01-09 03:00","v":3.0},{"t":"2014-01-09 06:00","v":3.6},{"t":"2014-01-09 09:00","v":3.9},{"t":"2014-01-09 12:00","v":3.5},{"t":"2014-01-09 15:00","v":3.8},{"t":"2014-01-09 18:00","v":3.9},{"t":"2014-01-09 20:00","v":4.4},{"t":"2014-01-09 21:00","v":4.1},
{"t":"2014-01-10 00:00","v":3.5},{"t":"2014-01-10 03:00","v":3.4},{"t":"2014-01-10 06:00","v":3.5},{"t":"2014-01-10 09:00","v":3.1},{"t":"2014-01-10 12:00","v":2.9},{"t":"2014-01-10 15:00","v":3.2},{"t":"2014-01-10 18:00","v":2.6},{"t":"2014-01-10 21:00","v":2.55},
{"t":"2014-01-11 00:00","v":2.35},{"t":"2014-01-11 03:00","v":2.2},{"t":"2014-01-11 06:00","v":2.25},{"t":"2014-01-11 09:00","v":2.05},{"t":"2014-01-11 12:00","v":1.7},{"t":"2014-01-11 15:00","v":1.75},{"t":"2014-01-11 18:00","v":1.7},{"t":"2014-01-11 21:00","v":1.55},
{"t":"2014-01-12 00:00","v":1.6},{"t":"2014-01-12 03:00","v":1.45},{"t":"2014-01-12 06:00","v":1.3},{"t":"2014-01-12 09:00","v":1.25},{"t":"2014-01-12 12:00","v":1.15},{"t":"2014-01-12 15:00","v":1.2},{"t":"2014-01-12 18:00","v":1.8},{"t":"2014-01-12 21:00","v":2.5},
{"t":"2014-01-13 00:00","v":2.75},{"t":"2014-01-13 03:00","v":3.25},{"t":"2014-01-13 06:00","v":3.1},{"t":"2014-01-13 09:00","v":3.4},{"t":"2014-01-13 12:00","v":3.5},{"t":"2014-01-13 15:00","v":3.6},{"t":"2014-01-13 18:00","v":3.4},{"t":"2014-01-13 21:00","v":3.6},
{"t":"2014-01-14 00:00","v":3.4},{"t":"2014-01-14 03:00","v":3.25},{"t":"2014-01-14 06:00","v":3.1},{"t":"2014-01-14 09:00","v":3.6},{"t":"2014-01-14 12:00","v":3.95},{"t":"2014-01-14 15:00","v":3.55},{"t":"2014-01-14 18:00","v":3.8},{"t":"2014-01-14 21:00","v":3.6},
{"t":"2014-01-15 00:00","v":4.0},{"t":"2014-01-15 03:00","v":4.15},{"t":"2014-01-15 06:00","v":4.05},{"t":"2014-01-15 09:00","v":4.3},{"t":"2014-01-15 12:00","v":4.5},{"t":"2014-01-15 14:00","v":4.5},{"t":"2014-01-15 15:00","v":4.2},{"t":"2014-01-15 18:00","v":4.3},{"t":"2014-01-15 21:00","v":4.0},
{"t":"2014-01-16 00:00","v":3.7},{"t":"2014-01-16 03:00","v":3.1},{"t":"2014-01-16 06:00","v":3.25},{"t":"2014-01-16 09:00","v":2.7},{"t":"2014-01-16 12:00","v":2.6},{"t":"2014-01-16 15:00","v":2.4},{"t":"2014-01-16 18:00","v":2.1},{"t":"2014-01-16 21:00","v":2.05},
{"t":"2014-01-17 00:00","v":2.35},{"t":"2014-01-17 03:00","v":1.9},{"t":"2014-01-17 06:00","v":1.85},{"t":"2014-01-17 09:00","v":2.0},{"t":"2014-01-17 12:00","v":1.75},{"t":"2014-01-17 15:00","v":1.8},{"t":"2014-01-17 18:00","v":1.55},{"t":"2014-01-17 21:00","v":2.1},
{"t":"2014-01-18 00:00","v":2.0},{"t":"2014-01-18 03:00","v":2.3},{"t":"2014-01-18 06:00","v":2.15},{"t":"2014-01-18 09:00","v":2.5},{"t":"2014-01-18 12:00","v":2.85},{"t":"2014-01-18 15:00","v":2.7},{"t":"2014-01-18 17:00","v":2.5},{"t":"2014-01-18 18:00","v":2.6},{"t":"2014-01-18 21:00","v":3.3},
{"t":"2014-01-19 00:00","v":3.9},{"t":"2014-01-19 02:00","v":4.05},{"t":"2014-01-19 03:00","v":3.7},{"t":"2014-01-19 06:00","v":3.45},{"t":"2014-01-19 09:00","v":3.2},{"t":"2014-01-19 12:00","v":2.8},{"t":"2014-01-19 15:00","v":2.5},{"t":"2014-01-19 18:00","v":2.2},{"t":"2014-01-19 21:00","v":2.05},
{"t":"2014-01-20 00:00","v":1.85},{"t":"2014-01-20 03:00","v":1.5},{"t":"2014-01-20 06:00","v":1.25},{"t":"2014-01-20 09:00","v":1.1},{"t":"2014-01-20 12:00","v":0.95},{"t":"2014-01-20 15:00","v":0.85},{"t":"2014-01-20 18:00","v":0.65},{"t":"2014-01-20 21:00","v":1.05},
{"t":"2014-01-21 00:00","v":1.5},{"t":"2014-01-21 03:00","v":2.3},{"t":"2014-01-21 06:00","v":2.8},{"t":"2014-01-21 09:00","v":3.4},{"t":"2014-01-21 12:00","v":4.0},{"t":"2014-01-21 13:00","v":4.25},{"t":"2014-01-21 15:00","v":3.7},{"t":"2014-01-21 18:00","v":3.9},{"t":"2014-01-21 21:00","v":4.0},
{"t":"2014-01-22 00:00","v":4.1},{"t":"2014-01-22 03:00","v":3.85},{"t":"2014-01-22 06:00","v":3.7},{"t":"2014-01-22 09:00","v":3.6},{"t":"2014-01-22 12:00","v":3.3},{"t":"2014-01-22 15:00","v":3.45},{"t":"2014-01-22 18:00","v":2.7},{"t":"2014-01-22 21:00","v":3.3},
{"t":"2014-01-23 00:00","v":3.2},{"t":"2014-01-23 03:00","v":2.7},{"t":"2014-01-23 06:00","v":2.4},{"t":"2014-01-23 09:00","v":2.1},{"t":"2014-01-23 12:00","v":2.0},{"t":"2014-01-23 15:00","v":1.85},{"t":"2014-01-23 18:00","v":1.5},{"t":"2014-01-23 21:00","v":1.3},
{"t":"2014-01-24 00:00","v":1.2},{"t":"2014-01-24 03:00","v":1.15},{"t":"2014-01-24 06:00","v":1.0},{"t":"2014-01-24 09:00","v":0.95},{"t":"2014-01-24 12:00","v":0.9},{"t":"2014-01-24 15:00","v":0.85},{"t":"2014-01-24 18:00","v":0.8},{"t":"2014-01-24 21:00","v":0.8},
{"t":"2014-01-25 00:00","v":0.7},{"t":"2014-01-25 03:00","v":0.8},{"t":"2014-01-25 06:00","v":0.95},{"t":"2014-01-25 09:00","v":0.97},{"t":"2014-01-25 12:00","v":0.95},{"t":"2014-01-25 15:00","v":1.05},{"t":"2014-01-25 18:00","v":0.85},{"t":"2014-01-25 21:00","v":0.7},
{"t":"2014-01-26 00:00","v":0.6},{"t":"2014-01-26 03:00","v":0.55},{"t":"2014-01-26 06:00","v":0.6},{"t":"2014-01-26 09:00","v":1.2},{"t":"2014-01-26 12:00","v":2.2},{"t":"2014-01-26 15:00","v":2.7},{"t":"2014-01-26 18:00","v":3.3},{"t":"2014-01-26 21:00","v":3.85},
{"t":"2014-01-27 00:00","v":3.65},{"t":"2014-01-27 03:00","v":3.2},{"t":"2014-01-27 06:00","v":2.6},{"t":"2014-01-27 09:00","v":2.3},{"t":"2014-01-27 12:00","v":2.2},{"t":"2014-01-27 15:00","v":2.0},{"t":"2014-01-27 18:00","v":1.85},{"t":"2014-01-27 21:00","v":2.0},
{"t":"2014-01-28 00:00","v":1.95}
],
"Em": [
{"t":"2014-01-05 06:00","v":1.97},{"t":"2014-01-05 12:00","v":2.0},{"t":"2014-01-05 18:00","v":2.2},{"t":"2014-01-06 00:00","v":2.53},{"t":"2014-01-06 06:00","v":2.45},{"t":"2014-01-06 12:00","v":2.3},{"t":"2014-01-06 18:00","v":2.15},
{"t":"2014-01-07 00:00","v":1.95},{"t":"2014-01-07 06:00","v":1.6},{"t":"2014-01-07 12:00","v":1.2},{"t":"2014-01-07 18:00","v":0.88},{"t":"2014-01-08 00:00","v":0.72},{"t":"2014-01-08 06:00","v":0.6},{"t":"2014-01-08 12:00","v":0.5},{"t":"2014-01-08 16:00","v":0.5},{"t":"2014-01-08 19:00","v":0.6},{"t":"2014-01-08 22:00","v":1.1},
{"t":"2014-01-09 00:00","v":1.6},{"t":"2014-01-09 03:00","v":2.2},{"t":"2014-01-09 06:00","v":2.6},{"t":"2014-01-09 12:00","v":2.9},{"t":"2014-01-09 18:00","v":3.25},{"t":"2014-01-09 21:00","v":3.35},{"t":"2014-01-10 00:00","v":3.3},{"t":"2014-01-10 06:00","v":3.2},{"t":"2014-01-10 12:00","v":3.0},{"t":"2014-01-10 18:00","v":2.55},
{"t":"2014-01-11 00:00","v":2.35},{"t":"2014-01-11 06:00","v":2.2},{"t":"2014-01-11 12:00","v":1.85},{"t":"2014-01-11 18:00","v":1.5},{"t":"2014-01-12 00:00","v":1.25},{"t":"2014-01-12 06:00","v":1.12},{"t":"2014-01-12 12:00","v":1.05},{"t":"2014-01-12 15:00","v":1.05},{"t":"2014-01-12 18:00","v":1.5},{"t":"2014-01-12 21:00","v":2.0},
{"t":"2014-01-13 00:00","v":2.4},{"t":"2014-01-13 06:00","v":2.8},{"t":"2014-01-13 12:00","v":2.97},{"t":"2014-01-13 18:00","v":2.85},{"t":"2014-01-14 00:00","v":2.6},{"t":"2014-01-14 06:00","v":2.45},{"t":"2014-01-14 09:00","v":2.55},{"t":"2014-01-14 12:00","v":2.85},{"t":"2014-01-14 18:00","v":3.3},
{"t":"2014-01-15 00:00","v":3.65},{"t":"2014-01-15 06:00","v":4.0},{"t":"2014-01-15 12:00","v":4.25},{"t":"2014-01-15 16:00","v":3.5},{"t":"2014-01-15 18:00","v":3.35},{"t":"2014-01-16 00:00","v":3.2},{"t":"2014-01-16 06:00","v":2.92},{"t":"2014-01-16 12:00","v":2.5},{"t":"2014-01-16 18:00","v":2.2},
{"t":"2014-01-17 00:00","v":1.98},{"t":"2014-01-17 06:00","v":1.82},{"t":"2014-01-17 12:00","v":1.55},{"t":"2014-01-17 15:00","v":1.4},{"t":"2014-01-17 18:00","v":1.5},{"t":"2014-01-18 00:00","v":1.85},{"t":"2014-01-18 06:00","v":2.25},{"t":"2014-01-18 12:00","v":2.65},{"t":"2014-01-18 18:00","v":2.95},
{"t":"2014-01-19 00:00","v":3.35},{"t":"2014-01-19 02:00","v":3.47},{"t":"2014-01-19 06:00","v":3.2},{"t":"2014-01-19 12:00","v":2.75},{"t":"2014-01-19 18:00","v":2.1},{"t":"2014-01-20 00:00","v":1.6},{"t":"2014-01-20 06:00","v":1.25},{"t":"2014-01-20 12:00","v":1.05},{"t":"2014-01-20 18:00","v":1.0},{"t":"2014-01-20 21:00","v":1.05},
{"t":"2014-01-21 00:00","v":1.5},{"t":"2014-01-21 06:00","v":2.5},{"t":"2014-01-21 12:00","v":3.2},{"t":"2014-01-21 18:00","v":3.5},{"t":"2014-01-22 00:00","v":3.55},{"t":"2014-01-22 06:00","v":3.5},{"t":"2014-01-22 12:00","v":3.3},{"t":"2014-01-22 18:00","v":3.12},
{"t":"2014-01-23 00:00","v":2.95},{"t":"2014-01-23 06:00","v":2.55},{"t":"2014-01-23 12:00","v":2.1},{"t":"2014-01-23 18:00","v":1.55},{"t":"2014-01-24 00:00","v":1.25},{"t":"2014-01-24 06:00","v":1.0},{"t":"2014-01-24 12:00","v":0.88},{"t":"2014-01-24 18:00","v":0.75},
{"t":"2014-01-25 00:00","v":0.67},{"t":"2014-01-25 06:00","v":0.65},{"t":"2014-01-25 12:00","v":0.62},{"t":"2014-01-25 18:00","v":0.58},{"t":"2014-01-26 00:00","v":0.52},{"t":"2014-01-26 03:00","v":0.49},{"t":"2014-01-26 06:00","v":0.7},{"t":"2014-01-26 12:00","v":1.5},{"t":"2014-01-26 18:00","v":2.6},{"t":"2014-01-26 21:00","v":2.95},
{"t":"2014-01-27 00:00","v":3.1},{"t":"2014-01-27 06:00","v":2.75},{"t":"2014-01-27 12:00","v":2.4},{"t":"2014-01-27 18:00","v":1.95},{"t":"2014-01-28 00:00","v":1.7}
]
},
"vconcat": [
{
 "width": 797, "height": 255,
 "layer": [
  {"data": {"name": "Ab"}, "mark": {"type": "line", "color": "#0a0aff", "strokeWidth": 1, "clip": true},
   "encoding": {
    "x": {"field": "t", "type": "temporal", "scale": {"domain": [{"year":2014,"month":1,"date":4},{"year":2014,"month":1,"date":28,"hours":15,"minutes":17}]}, "axis": {"orient": "bottom", "values": [{"year":2014,"month":1,"date":6},{"year":2014,"month":1,"date":11},{"year":2014,"month":1,"date":16},{"year":2014,"month":1,"date":21},{"year":2014,"month":1,"date":26}], "format": "%Y/%m/%d", "labelPadding": 12, "title": null}},
    "y": {"field": "v", "type": "quantitative", "scale": {"domain": [0, 4.5], "nice": false}, "axis": {"orient": "left", "values": [0,1,2,3,4], "labelPadding": 10, "title": "Wave height (m)", "titlePadding": 6}}
   }},
  {"data": {"name": "Am"}, "mark": {"type": "line", "color": "#dd2c1e", "strokeWidth": 1, "clip": true},
   "encoding": {
    "x": {"field": "t", "type": "temporal", "scale": {"domain": [{"year":2014,"month":1,"date":4},{"year":2014,"month":1,"date":28,"hours":15,"minutes":17}]}, "axis": {"orient": "top", "values": [{"year":2014,"month":1,"date":6},{"year":2014,"month":1,"date":11},{"year":2014,"month":1,"date":16},{"year":2014,"month":1,"date":21},{"year":2014,"month":1,"date":26}], "labels": false, "title": null}},
    "y": {"field": "v", "type": "quantitative", "scale": {"domain": [0, 4.5], "nice": false}, "axis": {"orient": "right", "values": [0,1,2,3,4], "labels": false, "title": null}}
   }},
  {"data": {"values": [{}]}, "mark": {"type": "text", "align": "left", "baseline": "middle", "fontSize": 22, "color": "#1a1a1a"},
   "encoding": {"x": {"datum": {"year":2014,"month":1,"date":4,"hours":11}, "type": "temporal", "axis": null}, "y": {"datum": 4, "type": "quantitative", "axis": null}, "text": {"value": "(a) Station A"}}},
  {"data": {"values": [{}]}, "mark": {"type": "text", "align": "left", "baseline": "top", "fontSize": 13, "lineHeight": 15, "color": "#1a1a1a"},
   "encoding": {"x": {"datum": {"year":2014,"month":1,"date":4,"hours":7}, "type": "temporal", "axis": null}, "y": {"datum": 1.27, "type": "quantitative", "axis": null}, "text": {"value": ["CC=0.949","MB=-0.16m","MAE=0.24m","RMSE=0.32m"]}}},
  {"data": {"values": [{}]}, "mark": {"type": "rect", "fill": "white", "stroke": "#8f8f8f", "strokeWidth": 1},
   "encoding": {"x": {"datum": {"year":2014,"month":1,"date":25,"hours":17,"minutes":30}, "type": "temporal", "axis": null}, "x2": {"datum": {"year":2014,"month":1,"date":28,"hours":10}}, "y": {"datum": 4.26, "type": "quantitative", "axis": null}, "y2": {"datum": 3.58}}},
  {"data": {"values": [{}]}, "mark": {"type": "rule", "color": "#0a0aff", "strokeWidth": 1},
   "encoding": {"x": {"datum": {"year":2014,"month":1,"date":25,"hours":20,"minutes":45}, "type": "temporal", "axis": null}, "x2": {"datum": {"year":2014,"month":1,"date":27,"hours":6}}, "y": {"datum": 4.07, "type": "quantitative", "axis": null}}},
  {"data": {"values": [{}]}, "mark": {"type": "rule", "color": "#dd2c1e", "strokeWidth": 1},
   "encoding": {"x": {"datum": {"year":2014,"month":1,"date":25,"hours":20,"minutes":45}, "type": "temporal", "axis": null}, "x2": {"datum": {"year":2014,"month":1,"date":27,"hours":6}}, "y": {"datum": 3.79, "type": "quantitative", "axis": null}}},
  {"data": {"values": [{}]}, "mark": {"type": "text", "align": "left", "baseline": "middle", "fontSize": 13, "color": "#262626"},
   "encoding": {"x": {"datum": {"year":2014,"month":1,"date":27,"hours":8}, "type": "temporal", "axis": null}, "y": {"datum": 4.07, "type": "quantitative", "axis": null}, "text": {"value": "Buoy"}}},
  {"data": {"values": [{}]}, "mark": {"type": "text", "align": "left", "baseline": "middle", "fontSize": 13, "color": "#262626"},
   "encoding": {"x": {"datum": {"year":2014,"month":1,"date":27,"hours":8}, "type": "temporal", "axis": null}, "y": {"datum": 3.79, "type": "quantitative", "axis": null}, "text": {"value": "Model"}}}
 ],
 "resolve": {"axis": {"x": "independent", "y": "independent"}}
},
{
 "width": 797, "height": 256,
 "layer": [
  {"data": {"name": "Bb"}, "mark": {"type": "line", "color": "#0a0aff", "strokeWidth": 1, "clip": true},
   "encoding": {
    "x": {"field": "t", "type": "temporal", "scale": {"domain": [{"year":2014,"month":1,"date":4},{"year":2014,"month":1,"date":28,"hours":15,"minutes":17}]}, "axis": {"orient": "bottom", "values": [{"year":2014,"month":1,"date":6},{"year":2014,"month":1,"date":11},{"year":2014,"month":1,"date":16},{"year":2014,"month":1,"date":21},{"year":2014,"month":1,"date":26}], "format": "%Y/%m/%d", "labelPadding": 12, "title": null}},
    "y": {"field": "v", "type": "quantitative", "scale": {"domain": [0, 4.5], "nice": false}, "axis": {"orient": "left", "values": [0,1,2,3,4], "labelPadding": 10, "title": "Wave height (m)", "titlePadding": 6}}
   }},
  {"data": {"name": "Bm"}, "mark": {"type": "line", "color": "#dd2c1e", "strokeWidth": 1, "clip": true},
   "encoding": {
    "x": {"field": "t", "type": "temporal", "scale": {"domain": [{"year":2014,"month":1,"date":4},{"year":2014,"month":1,"date":28,"hours":15,"minutes":17}]}, "axis": {"orient": "top", "values": [{"year":2014,"month":1,"date":6},{"year":2014,"month":1,"date":11},{"year":2014,"month":1,"date":16},{"year":2014,"month":1,"date":21},{"year":2014,"month":1,"date":26}], "labels": false, "title": null}},
    "y": {"field": "v", "type": "quantitative", "scale": {"domain": [0, 4.5], "nice": false}, "axis": {"orient": "right", "values": [0,1,2,3,4], "labels": false, "title": null}}
   }},
  {"data": {"values": [{}]}, "mark": {"type": "text", "align": "left", "baseline": "middle", "fontSize": 22, "color": "#1a1a1a"},
   "encoding": {"x": {"datum": {"year":2014,"month":1,"date":4,"hours":11}, "type": "temporal", "axis": null}, "y": {"datum": 4, "type": "quantitative", "axis": null}, "text": {"value": "(b) Station B"}}},
  {"data": {"values": [{}]}, "mark": {"type": "text", "align": "left", "baseline": "top", "fontSize": 13, "lineHeight": 15, "color": "#1a1a1a"},
   "encoding": {"x": {"datum": {"year":2014,"month":1,"date":4,"hours":7}, "type": "temporal", "axis": null}, "y": {"datum": 1.27, "type": "quantitative", "axis": null}, "text": {"value": ["CC=0.959","MB=-0.45m","MAE=0.45m","RMSE=0.54m"]}}}
 ],
 "resolve": {"axis": {"x": "independent", "y": "independent"}}
},
{
 "width": 797, "height": 258,
 "layer": [
  {"data": {"name": "Cb"}, "mark": {"type": "line", "color": "#0a0aff", "strokeWidth": 1, "clip": true},
   "encoding": {
    "x": {"field": "t", "type": "temporal", "scale": {"domain": [{"year":2014,"month":1,"date":4},{"year":2014,"month":1,"date":28,"hours":15,"minutes":17}]}, "axis": {"orient": "bottom", "values": [{"year":2014,"month":1,"date":6},{"year":2014,"month":1,"date":11},{"year":2014,"month":1,"date":16},{"year":2014,"month":1,"date":21},{"year":2014,"month":1,"date":26}], "format": "%Y/%m/%d", "labelPadding": 12, "title": null}},
    "y": {"field": "v", "type": "quantitative", "scale": {"domain": [0, 4.5], "nice": false}, "axis": {"orient": "left", "values": [0,1,2,3,4], "labelPadding": 10, "title": "Wave height (m)", "titlePadding": 6}}
   }},
  {"data": {"name": "Cm"}, "mark": {"type": "line", "color": "#dd2c1e", "strokeWidth": 1, "clip": true},
   "encoding": {
    "x": {"field": "t", "type": "temporal", "scale": {"domain": [{"year":2014,"month":1,"date":4},{"year":2014,"month":1,"date":28,"hours":15,"minutes":17}]}, "axis": {"orient": "top", "values": [{"year":2014,"month":1,"date":6},{"year":2014,"month":1,"date":11},{"year":2014,"month":1,"date":16},{"year":2014,"month":1,"date":21},{"year":2014,"month":1,"date":26}], "labels": false, "title": null}},
    "y": {"field": "v", "type": "quantitative", "scale": {"domain": [0, 4.5], "nice": false}, "axis": {"orient": "right", "values": [0,1,2,3,4], "labels": false, "title": null}}
   }},
  {"data": {"values": [{}]}, "mark": {"type": "text", "align": "left", "baseline": "middle", "fontSize": 22, "color": "#1a1a1a"},
   "encoding": {"x": {"datum": {"year":2014,"month":1,"date":4,"hours":11}, "type": "temporal", "axis": null}, "y": {"datum": 4, "type": "quantitative", "axis": null}, "text": {"value": "(c) Station C"}}},
  {"data": {"values": [{}]}, "mark": {"type": "text", "align": "left", "baseline": "top", "fontSize": 13, "lineHeight": 15, "color": "#1a1a1a"},
   "encoding": {"x": {"datum": {"year":2014,"month":1,"date":4,"hours":7}, "type": "temporal", "axis": null}, "y": {"datum": 1.27, "type": "quantitative", "axis": null}, "text": {"value": ["CC=0.933","MB=-0.20m","MAE=0.26m","RMSE=0.33m"]}}}
 ],
 "resolve": {"axis": {"x": "independent", "y": "independent"}}
},
{
 "width": 799, "height": 258,
 "layer": [
  {"data": {"name": "Db"}, "mark": {"type": "line", "color": "#0a0aff", "strokeWidth": 1, "clip": true},
   "encoding": {
    "x": {"field": "t", "type": "temporal", "scale": {"domain": [{"year":2014,"month":1,"date":4},{"year":2014,"month":1,"date":28,"hours":16,"minutes":45}]}, "axis": {"orient": "bottom", "values": [{"year":2014,"month":1,"date":6},{"year":2014,"month":1,"date":11},{"year":2014,"month":1,"date":16},{"year":2014,"month":1,"date":21},{"year":2014,"month":1,"date":26}], "format": "%Y/%m/%d", "labelPadding": 12, "title": null}},
    "y": {"field": "v", "type": "quantitative", "scale": {"domain": [0, 4.5], "nice": false}, "axis": {"orient": "left", "values": [0,1,2,3,4], "labelPadding": 10, "title": "Wave height (m)", "titlePadding": 4}}
   }},
  {"data": {"name": "Dm"}, "mark": {"type": "line", "color": "#dd2c1e", "strokeWidth": 1, "clip": true},
   "encoding": {
    "x": {"field": "t", "type": "temporal", "scale": {"domain": [{"year":2014,"month":1,"date":4},{"year":2014,"month":1,"date":28,"hours":16,"minutes":45}]}, "axis": {"orient": "top", "values": [{"year":2014,"month":1,"date":6},{"year":2014,"month":1,"date":11},{"year":2014,"month":1,"date":16},{"year":2014,"month":1,"date":21},{"year":2014,"month":1,"date":26}], "labels": false, "title": null}},
    "y": {"field": "v", "type": "quantitative", "scale": {"domain": [0, 4.5], "nice": false}, "axis": {"orient": "right", "values": [0,1,2,3,4], "labels": false, "title": null}}
   }},
  {"data": {"values": [{}]}, "mark": {"type": "text", "align": "left", "baseline": "middle", "fontSize": 22, "color": "#1a1a1a"},
   "encoding": {"x": {"datum": {"year":2014,"month":1,"date":4,"hours":11}, "type": "temporal", "axis": null}, "y": {"datum": 4, "type": "quantitative", "axis": null}, "text": {"value": "(d) Station D"}}},
  {"data": {"values": [{}]}, "mark": {"type": "text", "align": "left", "baseline": "top", "fontSize": 13, "lineHeight": 15, "color": "#1a1a1a"},
   "encoding": {"x": {"datum": {"year":2014,"month":1,"date":4,"hours":7}, "type": "temporal", "axis": null}, "y": {"datum": 1.27, "type": "quantitative", "axis": null}, "text": {"value": ["CC=0.949","MB=-0.43m","MAE=0.45m","RMSE=0.52m"]}}}
 ],
 "resolve": {"axis": {"x": "independent", "y": "independent"}}
},
{
 "width": 802, "height": 248,
 "layer": [
  {"data": {"name": "Eb"}, "mark": {"type": "line", "color": "#0a0aff", "strokeWidth": 1, "clip": true},
   "encoding": {
    "x": {"field": "t", "type": "temporal", "scale": {"domain": [{"year":2014,"month":1,"date":4},{"year":2014,"month":1,"date":28,"hours":19}]}, "axis": {"orient": "bottom", "values": [{"year":2014,"month":1,"date":6},{"year":2014,"month":1,"date":11},{"year":2014,"month":1,"date":16},{"year":2014,"month":1,"date":21},{"year":2014,"month":1,"date":26}], "format": "%Y/%m/%d", "labelPadding": 12, "title": "Time", "titleFontSize": 16, "titlePadding": 0}},
    "y": {"field": "v", "type": "quantitative", "scale": {"domain": [0, 4.5], "nice": false}, "axis": {"orient": "left", "values": [0,1,2,3,4], "labelPadding": 10, "title": "Wave height (m)", "titlePadding": 1}}
   }},
  {"data": {"name": "Em"}, "mark": {"type": "line", "color": "#dd2c1e", "strokeWidth": 1, "clip": true},
   "encoding": {
    "x": {"field": "t", "type": "temporal", "scale": {"domain": [{"year":2014,"month":1,"date":4},{"year":2014,"month":1,"date":28,"hours":19}]}, "axis": {"orient": "top", "values": [{"year":2014,"month":1,"date":6},{"year":2014,"month":1,"date":11},{"year":2014,"month":1,"date":16},{"year":2014,"month":1,"date":21},{"year":2014,"month":1,"date":26}], "labels": false, "title": null}},
    "y": {"field": "v", "type": "quantitative", "scale": {"domain": [0, 4.5], "nice": false}, "axis": {"orient": "right", "values": [0,1,2,3,4], "labels": false, "title": null}}
   }},
  {"data": {"values": [{}]}, "mark": {"type": "text", "align": "left", "baseline": "middle", "fontSize": 22, "color": "#1a1a1a"},
   "encoding": {"x": {"datum": {"year":2014,"month":1,"date":4,"hours":11}, "type": "temporal", "axis": null}, "y": {"datum": 4, "type": "quantitative", "axis": null}, "text": {"value": "(e) Station E"}}},
  {"data": {"values": [{}]}, "mark": {"type": "text", "align": "left", "baseline": "top", "fontSize": 13, "lineHeight": 15, "color": "#1a1a1a"},
   "encoding": {"x": {"datum": {"year":2014,"month":1,"date":4,"hours":7}, "type": "temporal", "axis": null}, "y": {"datum": 1.3, "type": "quantitative", "axis": null}, "text": {"value": ["CC=0.960","MB=-0.31m","MAE=0.34m","RMSE=0.43m"]}}}
 ],
 "resolve": {"axis": {"x": "independent", "y": "independent"}}
}
]
}
